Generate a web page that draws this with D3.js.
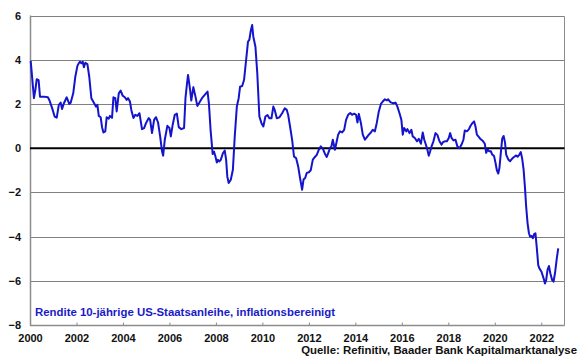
<!DOCTYPE html>
<html>
<head>
<meta charset="utf-8">
<script src="https://cdn.jsdelivr.net/npm/d3@7"></script>
<style>
html,body{margin:0;padding:0;background:#fff;}
svg{display:block;font-family:Arial,"Liberation Sans",sans-serif;}
</style>
</head>
<body>
<svg id="chart" width="580" height="358"></svg>
<script>
// Decimal year of each reading
const dates = [
2000.03,2000.17,2000.23,2000.29,2000.37,2000.43,2000.60,2000.77,2000.83,2000.95,
2001.06,2001.15,2001.24,2001.32,2001.38,2001.46,2001.58,2001.69,2001.75,2001.86,2001.95,
2002.04,2002.10,2002.15,2002.21,2002.27,2002.32,2002.38,2002.47,2002.55,2002.64,2002.76,2002.84,2002.90,2002.96,
2003.04,2003.10,2003.16,2003.24,2003.30,2003.39,2003.44,2003.53,2003.59,2003.67,2003.73,2003.82,2003.90,2003.99,
2004.08,2004.16,2004.22,2004.30,2004.36,2004.45,2004.53,2004.62,2004.71,2004.82,2004.91,2004.99,
2005.11,2005.17,2005.25,2005.34,2005.42,2005.51,2005.60,2005.68,2005.73,2005.80,2005.91,
2006.00,2006.06,2006.14,2006.23,2006.32,2006.40,2006.51,2006.63,2006.69,2006.75,2006.80,2006.89,2006.94,
2007.03,2007.12,2007.20,2007.29,2007.40,2007.52,2007.64,2007.70,2007.77,2007.86,2007.92,2007.98,
2008.04,2008.09,2008.15,2008.21,2008.30,2008.38,2008.44,2008.49,2008.55,2008.64,2008.73,2008.81,2008.90,2008.98,
2009.04,2009.13,2009.21,2009.30,2009.38,2009.44,2009.50,2009.56,2009.61,2009.70,2009.78,2009.87,2009.96,
2010.04,2010.13,2010.22,2010.30,2010.39,2010.47,2010.53,2010.62,2010.73,2010.85,2010.96,
2011.05,2011.11,2011.19,2011.28,2011.36,2011.45,2011.54,2011.62,2011.71,2011.77,2011.84,2011.91,
2012.00,2012.08,2012.17,2012.26,2012.34,2012.43,2012.51,2012.60,2012.69,2012.77,2012.86,2012.91,2012.97,
2013.03,2013.12,2013.20,2013.26,2013.34,2013.43,2013.52,2013.60,2013.69,2013.78,2013.86,2013.95,
2014.03,2014.09,2014.15,2014.24,2014.32,2014.41,2014.49,2014.58,2014.67,2014.75,2014.84,2014.92,
2015.01,2015.10,2015.18,2015.27,2015.36,2015.41,2015.50,2015.55,2015.64,2015.73,2015.81,2015.90,2015.98,
2016.04,2016.10,2016.19,2016.24,2016.33,2016.41,2016.47,2016.56,2016.65,2016.73,2016.82,2016.90,2016.96,
2017.05,2017.10,2017.16,2017.22,2017.28,2017.36,2017.45,2017.53,2017.62,2017.71,2017.77,2017.85,2017.94,
2018.02,2018.08,2018.14,2018.22,2018.31,2018.39,2018.48,2018.57,2018.65,2018.71,2018.80,2018.89,2018.94,
2019.03,2019.11,2019.17,2019.23,2019.32,2019.37,2019.49,2019.57,2019.63,2019.69,2019.75,2019.83,2019.89,2019.97,
2020.03,2020.09,2020.15,2020.20,2020.26,2020.32,2020.38,2020.44,2020.49,2020.58,2020.66,2020.75,2020.84,2020.92,2020.98,
2021.06,2021.12,2021.18,2021.24,2021.30,2021.35,2021.41,2021.47,2021.52,2021.58,2021.64,2021.70,2021.75,2021.81,2021.87,2021.92,
2022.01,2022.10,2022.16,2022.21,2022.27,2022.33,2022.39,2022.47,2022.53,2022.59,2022.67,2022.73
];
// Real (inflation-adjusted) 10y US Treasury yield, %
const yields = [
3.95,2.26,2.63,3.12,3.08,2.33,2.33,2.30,2.18,1.82,
1.43,1.38,1.96,2.06,1.77,2.03,2.30,2.00,2.05,2.48,3.23,
3.72,3.84,3.91,3.84,3.91,3.66,3.86,3.80,3.23,2.26,2.03,1.88,1.96,1.46,
1.40,0.95,0.71,0.76,1.40,1.33,1.46,1.37,2.30,2.26,1.66,2.48,2.60,2.37,
2.30,2.18,2.26,2.11,1.73,1.36,1.51,1.46,1.58,0.86,0.91,1.13,
1.36,1.28,0.68,1.28,1.40,1.16,0.53,-0.14,-0.34,0.38,1.01,
0.91,0.53,1.06,1.51,1.56,0.95,0.86,0.91,2.26,2.86,3.31,2.64,2.15,
2.76,2.33,1.91,2.06,2.26,2.41,2.56,2.00,0.83,-0.26,-0.16,-0.38,
-0.65,-0.53,-0.60,-0.53,-0.23,-0.11,-0.53,-1.28,-1.58,-1.43,-0.98,0.52,1.88,2.26,
2.78,2.81,3.08,3.99,4.81,4.91,5.31,5.57,5.04,4.59,3.39,1.43,1.13,
0.98,1.43,1.50,1.35,1.35,1.88,1.73,1.35,1.39,1.58,1.80,
1.73,1.50,0.98,0.37,-0.38,-0.45,-0.83,-1.35,-1.88,-1.42,-1.35,-1.12,
-1.09,-1.00,-0.52,-0.40,-0.30,-0.07,0.08,-0.02,-0.25,-0.40,-0.15,0.00,0.08,
0.38,-0.07,0.31,0.61,0.76,0.71,0.83,1.28,1.51,1.59,1.51,1.56,
1.51,1.16,1.55,1.13,0.61,0.38,0.49,0.61,0.71,0.83,0.76,1.13,
1.66,2.00,2.11,2.21,2.16,2.21,2.09,2.06,2.03,2.06,1.88,1.58,1.28,
0.61,0.91,0.76,0.86,0.68,0.83,0.53,0.46,0.31,0.42,0.20,0.71,0.40,
0.11,-0.07,-0.34,-0.14,0.08,0.31,0.68,0.60,0.31,0.16,0.27,0.31,0.31,
0.46,0.68,0.46,0.35,0.38,0.08,0.00,0.16,0.38,0.80,0.76,0.86,0.98,
1.13,1.21,0.98,0.61,0.50,0.43,0.32,0.20,-0.21,-0.06,-0.14,-0.14,-0.29,-0.36,
-0.66,-1.00,-1.15,-0.90,-0.21,0.43,0.55,0.26,-0.29,-0.51,-0.59,-0.47,-0.39,-0.33,-0.39,
-0.29,-0.18,-0.48,-0.97,-1.80,-2.64,-3.39,-3.85,-4.00,-3.97,-4.07,-3.88,-3.85,-4.53,-5.29,-5.44,
-5.59,-5.89,-6.12,-5.97,-5.51,-5.33,-5.66,-5.97,-6.04,-5.66,-4.98,-4.53
];
const xTicks = [2000,2002,2004,2006,2008,2010,2012,2014,2016,2018,2020,2022];
const yTicks = [-8,-6,-4,-2,0,2,4,6];
const seriesLabel = "Rendite 10-jährige US-Staatsanleihe, inflationsbereinigt";
const sourceLabel = "Quelle: Refinitiv, Baader Bank Kapitalmarktanalyse";

const svg = d3.select("#chart");
const L = 30, R = 564.5, T = 15.5, B = 325;
const x = d3.scaleLinear().domain([2000, 2023]).range([L, R]);
const y = d3.scaleLinear().domain([-8, 6]).range([B, T]);

// gridlines
svg.append("g").selectAll("line").data(yTicks.filter(d => d !== 0 && d !== -8)).join("line")
  .attr("x1", L).attr("x2", R)
  .attr("y1", d => Math.round(y(d)) + 0.5).attr("y2", d => Math.round(y(d)) + 0.5)
  .attr("stroke", "#808080").attr("stroke-width", 1);

// frame: left axis, right border, bottom axis
svg.append("line").attr("x1", L + 0.5).attr("x2", L + 0.5).attr("y1", T).attr("y2", B + 0.5)
  .attr("stroke", "#8c8c8c").attr("stroke-width", 1.5);
svg.append("line").attr("x1", R).attr("x2", R).attr("y1", Math.round(T) + 0.5).attr("y2", B + 0.5)
  .attr("stroke", "#8c8c8c").attr("stroke-width", 1);
svg.append("line").attr("x1", L).attr("x2", R).attr("y1", B + 0.5).attr("y2", B + 0.5)
  .attr("stroke", "#8c8c8c").attr("stroke-width", 1.5);

// x axis ticks & labels
const xAxis = d3.axisBottom(x).tickValues(xTicks).tickFormat(d3.format("d")).tickSize(-3).tickPadding(9);
const gx = svg.append("g").attr("transform", `translate(0,${B + 0.5})`).call(xAxis);
gx.select(".domain").remove();
gx.selectAll(".tick line").attr("stroke", "#8c8c8c");
gx.selectAll(".tick text").attr("fill", "#111").attr("font-size", "11px").attr("font-weight", "bold")
  .attr("font-family", "Arial, 'Liberation Sans', sans-serif");

// y axis labels
const yAxis = d3.axisLeft(y).tickValues(yTicks).tickFormat(d3.format("d")).tickSize(0).tickPadding(9);
const gy = svg.append("g").attr("transform", `translate(${L},0)`).call(yAxis);
gy.select(".domain").remove();
gy.selectAll(".tick text").attr("fill", "#111").attr("font-size", "11px").attr("font-weight", "bold")
  .attr("font-family", "Arial, 'Liberation Sans', sans-serif");

// zero line
svg.append("line").attr("x1", L).attr("x2", R).attr("y1", y(0)).attr("y2", y(0))
  .attr("stroke", "#000").attr("stroke-width", 2);

// series line
const pts = dates.map((d, i) => [d, yields[i]]);
svg.append("path").datum(pts)
  .attr("fill", "none").attr("stroke", "#1414cc").attr("stroke-width", 2).attr("stroke-linejoin", "round")
  .attr("d", d3.line().x(d => x(d[0])).y(d => y(d[1])));

// legend text
svg.append("text").attr("x", 35).attr("y", 316).text(seriesLabel)
  .attr("fill", "#1a1ac8").attr("font-size", "11.4px").attr("font-weight", "bold");

// source
svg.append("text").attr("x", 577).attr("y", 354).attr("text-anchor", "end").text(sourceLabel)
  .attr("fill", "#111").attr("font-size", "11.4px").attr("font-weight", "bold");
</script>
</body>
</html>
